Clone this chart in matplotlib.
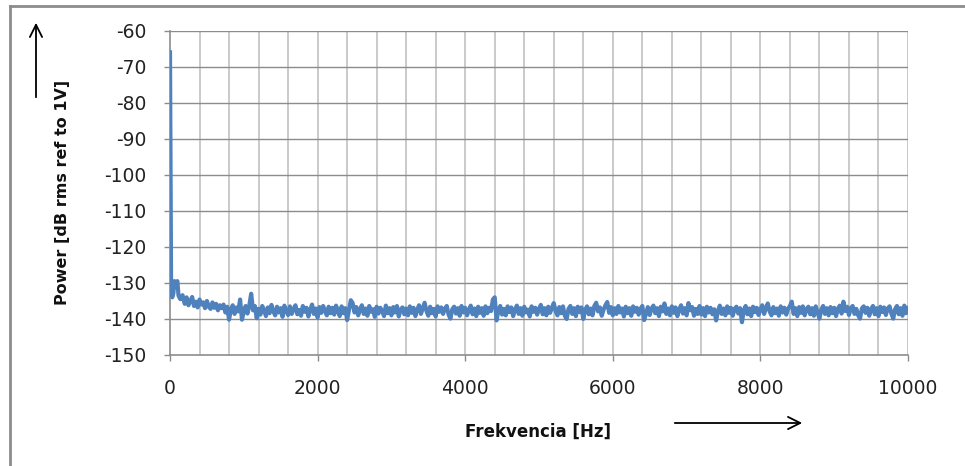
import numpy as np
from matplotlib import pyplot as plt
from matplotlib.lines import Line2D

# spectrum: first bins near DC, then the noise floor every 25 Hz
freq_head = [0, 15, 30, 45, 60, 80, 100, 115, 140, 170]
power_head = [-66.0, -132.0, -134.0, -133.0, -129.5, -130.0, -129.5, -133.5, -134.5, -133.4]

freq_floor = np.arange(200, 10001, 25)
power_floor = [
    # 200 - 675
    -135.8, -134.0, -136.2, -135.0, -133.9, -136.4, -135.2, -136.8, -134.6, -136.0,
    -135.4, -137.0, -135.0, -136.6, -137.2, -135.4, -136.9, -135.8, -137.6, -136.2,
    # 700 - 1175
    -137.0, -136.0, -138.2, -136.6, -140.2, -137.4, -136.2, -138.6, -136.8, -137.9,
    -134.6, -140.2, -138.0, -136.4, -138.5, -136.2, -133.0, -137.6, -136.4, -139.8,
    # 1200 - 1675
    -137.2, -138.8, -136.4, -137.6, -139.2, -136.8, -138.4, -136.1, -137.9, -139.0,
    -136.6, -138.2, -137.0, -139.4, -136.3, -137.8, -138.9, -136.5, -138.6, -137.2,
    # 1700 - 2175
    -136.2, -138.7, -137.5, -139.1, -136.4, -138.0, -136.9, -139.3, -137.4, -136.0,
    -138.6, -137.1, -139.6, -136.7, -138.3, -136.4, -137.8, -139.0, -136.6, -138.4,
    # 2200 - 2675
    -136.9, -138.8, -136.3, -137.7, -139.2, -136.5, -138.4, -137.0, -140.3, -137.6,
    -134.8, -135.6, -138.2, -136.7, -139.0, -137.3, -136.2, -138.6, -137.1, -139.1,
    # 2700 - 3175
    -136.4, -138.0, -137.3, -139.4, -136.6, -138.5, -136.9, -137.8, -139.2, -136.3,
    -138.4, -137.0, -139.0, -136.7, -138.2, -136.4, -139.3, -137.4, -136.8, -138.7,
    # 3200 - 3675
    -137.1, -139.0, -136.5, -138.3, -136.9, -139.2, -137.4, -136.2, -138.6, -137.0,
    -135.5, -137.8, -139.1, -136.6, -138.4, -137.2, -139.3, -136.5, -138.0, -136.8,
    # 3700 - 4175
    -138.6, -137.1, -136.4, -138.8, -139.9, -137.3, -136.6, -138.5, -137.0, -139.1,
    -136.4, -138.2, -136.9, -139.0, -137.5, -136.3, -138.7, -137.1, -139.2, -136.6,
    # 4200 - 4675
    -138.3, -137.0, -139.1, -136.5, -138.4, -136.9, -137.8, -134.6, -134.0, -140.4,
    -137.6, -136.4, -138.8, -137.2, -139.0, -136.5, -138.1, -136.8, -139.2, -137.4,
    # 4700 - 5175
    -136.3, -138.6, -137.0, -139.1, -136.6, -138.2, -137.4, -139.3, -136.5, -138.0,
    -136.9, -138.8, -137.2, -136.1, -138.7, -137.0, -139.0, -136.6, -138.3, -136.9,
    # 5200 - 5675
    -135.6, -137.8, -139.0, -136.7, -138.4, -136.5, -139.1, -140.0, -137.2, -136.4,
    -138.6, -137.0, -139.2, -136.6, -138.1, -136.8, -140.0, -137.5, -136.5, -138.7,
    # 5700 - 6175
    -137.1, -139.0, -136.4, -135.5, -137.9, -136.8, -139.1, -137.4, -136.2, -135.3,
    -138.3, -136.7, -139.0, -137.0, -138.6, -136.4, -138.2, -137.1, -139.3, -136.6,
    # 6200 - 6675
    -138.4, -137.0, -139.1, -136.5, -138.0, -136.9, -138.8, -137.2, -136.4, -140.3,
    -138.5, -136.7, -138.9, -137.1, -136.3, -138.4, -137.0, -139.2, -136.6, -137.9,
    # 6700 - 7175
    -135.7, -138.6, -137.1, -139.0, -136.5, -138.3, -136.8, -139.2, -137.3, -136.2,
    -138.5, -137.0, -139.0, -135.6, -137.6, -136.7, -139.1, -137.2, -138.6, -136.4,
    # 7200 - 7675
    -138.8, -137.0, -139.2, -136.6, -138.2, -136.9, -138.7, -137.3, -140.4, -137.8,
    -136.3, -138.6, -137.1, -139.0, -136.5, -138.3, -136.9, -139.1, -137.2, -136.6,
    # 7700 - 8175
    -138.5, -137.0, -140.9, -137.6, -136.4, -138.7, -137.1, -139.2, -136.6, -138.1,
    -136.9, -138.9, -137.3, -136.2, -138.6, -137.0, -135.7, -137.9, -139.0, -136.7,
    # 8200 - 8675
    -138.4, -137.1, -139.1, -136.5, -138.2, -136.9, -138.8, -137.2, -136.4, -135.2,
    -138.6, -137.0, -139.2, -136.7, -138.3, -136.5, -139.0, -137.3, -136.6, -138.7,
    # 8700 - 9175
    -137.0, -139.1, -136.5, -138.2, -139.9, -137.4, -136.4, -138.6, -137.0, -139.0,
    -136.7, -138.4, -136.9, -139.2, -137.2, -136.3, -138.5, -135.2, -137.8, -136.6,
    # 9200 - 9675
    -138.9, -137.0, -136.4, -138.6, -137.2, -139.0, -139.9, -137.1, -136.5, -138.3,
    -136.9, -139.1, -137.3, -136.4, -138.7, -137.0, -139.2, -136.6, -138.1, -136.8,
    # 9700 - 10000
    -138.9, -137.1, -136.5, -138.5, -139.9, -137.3, -136.4, -138.7, -137.0, -139.1,
    -136.3, -138.4, -137.0,
]

freq = np.concatenate([freq_head, freq_floor])
power = np.concatenate([power_head, power_floor])

x_major = [0, 2000, 4000, 6000, 8000, 10000]
y_ticks = list(range(-150, -59, 10))

plt.rcParams['font.family'] = 'DejaVu Sans'
plt.rcParams['axes.unicode_minus'] = False

fig = plt.figure(figsize=(9.65, 4.66), dpi=100)
ax = fig.add_axes([170 / 965, 1 - 355 / 466, 738 / 965, 324.3 / 466])

ax.plot(freq, power, color='#4f81bd', linewidth=3.0, solid_joinstyle='round', zorder=3)

ax.set_xlim(0, 10000)
ax.set_ylim(-150, -60)

# vertical grid every 400 Hz (light), horizontal every 10 dB (darker)
for xv in np.arange(400, 10001, 400):
    ax.axvline(xv, color='#c6c6c6', linewidth=1.3, zorder=1)
for yv in y_ticks[1:]:
    ax.axhline(yv, color='#8c8c8c', linewidth=1.0, zorder=1)

ax.set_xticks(x_major)
ax.set_yticks(y_ticks)
ax.tick_params(axis='both', direction='out', length=4, width=1, color='#8c8c8c',
               labelsize=13.5, labelcolor='#222222')
ax.tick_params(axis='x', pad=13)
ax.tick_params(axis='y', pad=13)

for side in ['top', 'right']:
    ax.spines[side].set_visible(False)
for side in ['left', 'bottom']:
    ax.spines[side].set_color('#8c8c8c')
    ax.spines[side].set_linewidth(1.2)

fig.text(63 / 965, 1 - 192 / 466, 'Power [dB rms ref to 1V]', rotation=90,
         ha='center', va='center', fontsize=11.5, fontweight='bold', color='#111111')
fig.text(538 / 965, 1 - 432 / 466, 'Frekvencia [Hz]',
         ha='center', va='center', fontsize=12, fontweight='bold', color='#111111')

# arrows next to the axis titles
fig.add_artist(plt.Annotation('', xy=(36 / 965, 1 - 20 / 466), xytext=(36 / 965, 1 - 100 / 466),
                              xycoords='figure fraction', textcoords='figure fraction',
                              arrowprops=dict(arrowstyle='->', color='black', lw=1.3,
                                              mutation_scale=22)))
fig.add_artist(plt.Annotation('', xy=(805 / 965, 1 - 423 / 466), xytext=(672 / 965, 1 - 423 / 466),
                              xycoords='figure fraction', textcoords='figure fraction',
                              arrowprops=dict(arrowstyle='->', color='black', lw=1.3,
                                              mutation_scale=22)))

# chart frame (left and top edges visible)
fig.add_artist(Line2D([10 / 965, 10 / 965], [0, 1 - 6 / 466], transform=fig.transFigure,
                      color='#8c8c8c', linewidth=2))
fig.add_artist(Line2D([10 / 965, 1], [1 - 6 / 466, 1 - 6 / 466], transform=fig.transFigure,
                      color='#8c8c8c', linewidth=2))

fig.savefig('out.png', dpi=100)
